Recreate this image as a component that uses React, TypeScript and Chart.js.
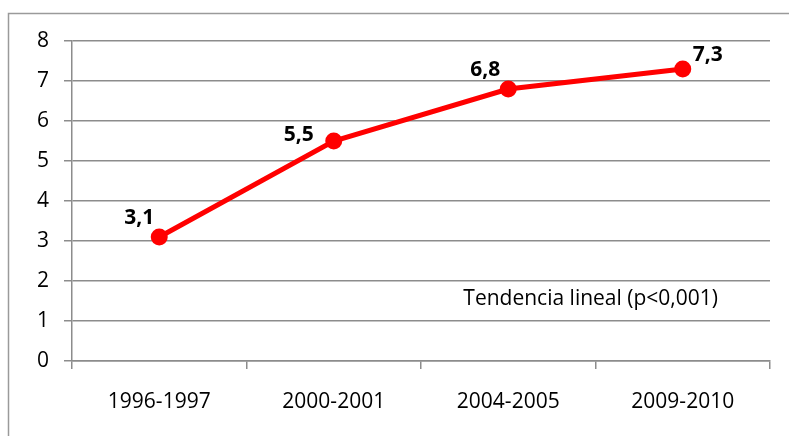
import React, { useEffect, useRef } from "react";
import { Chart, registerables } from "chart.js";

Chart.register(...registerables);

const categories = ["1996-1997", "2000-2001", "2004-2005", "2009-2010"];
const values = [3.1, 5.5, 6.8, 7.3];
const valueLabels = ["3,1", "5,5", "6,8", "7,3"];
const yTicks = [0, 1, 2, 3, 4, 5, 6, 7, 8];
const annotationText = "Tendencia lineal (p<0,001)";

const FONT = "'Open Sans', Lato, sans-serif";
const GRID = "#8c8c8c";

export default function App() {
  const ref = useRef<HTMLCanvasElement | null>(null);

  useEffect(() => {
    if (!ref.current) return;
    const labelOffsets = [
      [-20, -19],
      [-35, -6],
      [-23, -19],
      [25, -14],
    ];

    const framePlugin = {
      id: "frame",
      beforeDraw(chart: any) {
        const ctx = chart.ctx;
        ctx.save();
        ctx.fillStyle = "#ffffff";
        ctx.fillRect(0, 0, chart.width, chart.height);
        ctx.strokeStyle = "#9a9a9a";
        ctx.lineWidth = 1.5;
        ctx.strokeRect(8.5, 13.5, chart.width + 20, chart.height + 20);
        ctx.restore();
      },
    };

    const labelPlugin = {
      id: "valueLabels",
      afterDatasetsDraw(chart: any) {
        const ctx = chart.ctx;
        const meta = chart.getDatasetMeta(0);
        ctx.save();
        ctx.font = `bold 21px ${FONT}`;
        ctx.fillStyle = "#000000";
        ctx.textAlign = "center";
        ctx.textBaseline = "middle";
        meta.data.forEach((pt: any, i: number) => {
          const [dx, dy] = labelOffsets[i];
          ctx.fillText(valueLabels[i], pt.x + dx, pt.y + dy);
        });
        const ys = chart.scales.y;
        ctx.font = `21px ${FONT}`;
        ctx.textAlign = "right";
        ctx.fillText(annotationText, chart.chartArea.right - 52, ys.getPixelForValue(1.55));
        ctx.restore();
      },
    };

    const chart = new Chart(ref.current, {
      type: "line",
      data: {
        labels: categories,
        datasets: [
          {
            data: values,
            borderColor: "#ff0000",
            backgroundColor: "#ff0000",
            borderWidth: 5,
            pointRadius: 8.5,
            pointHoverRadius: 8.5,
            pointBackgroundColor: "#ff0000",
            pointBorderWidth: 0,
            tension: 0,
          },
        ],
      },
      options: {
        animation: false,
        responsive: false,
        devicePixelRatio: 1,
        layout: { padding: { top: 41, right: 19, left: 0, bottom: 0 } },
        plugins: {
          legend: { display: false },
          tooltip: { enabled: false },
        },
        scales: {
          x: {
            type: "category",
            offset: true,
            grid: {
              offset: true,
              drawOnChartArea: false,
              drawTicks: true,
              tickLength: 8,
              color: GRID,
              lineWidth: 1.5,
            },
            border: { display: true, color: GRID, width: 1.5 },
            ticks: {
              color: "#000000",
              font: { family: FONT, size: 21 },
              padding: 20,
              maxRotation: 0,
            },
            afterFit(scale: any) {
              scale.height = 75;
            },
          },
          y: {
            min: 0,
            max: 8,
            afterBuildTicks(scale: any) {
              scale.ticks = yTicks.map((v) => ({ value: v }));
            },
            grid: {
              drawTicks: true,
              tickLength: 8,
              color: GRID,
              lineWidth: 1.5,
            },
            border: { display: true, color: GRID, width: 1.5 },
            ticks: {
              color: "#000000",
              font: { family: FONT, size: 21 },
              padding: 15,
            },
            afterFit(scale: any) {
              scale.width = 72;
            },
          },
        },
      },
      plugins: [framePlugin, labelPlugin],
    });
    return () => chart.destroy();
  }, []);

  return (
    <div style={{ position: "fixed", left: 0, top: 0, width: 789, height: 436 }}>
      <canvas ref={ref} width={789} height={436} style={{ display: "block" }} />
    </div>
  );
}
